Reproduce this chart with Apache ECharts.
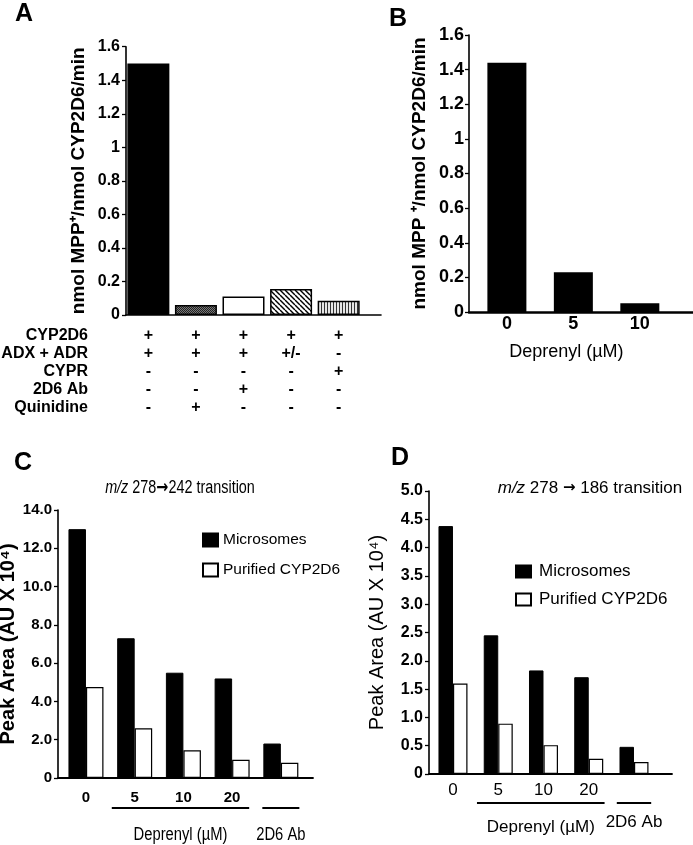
<!DOCTYPE html>
<html><head><meta charset="utf-8">
<script src="https://cdn.jsdelivr.net/npm/echarts@6/dist/echarts.min.js"></script>
<style>html,body{margin:0;padding:0;background:#fff}#c{width:693px;height:845px}</style>
</head><body><div id="c"></div>
<script>
// ---------------- data ----------------
// Panel A
const aValues = [1.50, 0.06, 0.11, 0.155, 0.085];
const aRowNames = ['CYP2D6', 'ADX + ADR', 'CYPR', '2D6 Ab', 'Quinidine'];
const aTable = [
  ['+', '+', '+', '+', '+'],
  ['+', '+', '+', '+/-', '-'],
  ['-', '-', '-', '-', '+'],
  ['-', '-', '+', '-', '-'],
  ['-', '+', '-', '-', '-']
];
// Panel B
const bCategories = ['0', '5', '10'];
const bValues = [1.44, 0.23, 0.05];
// Panels C and D
const cdTickLabels = ['0', '5', '10', '20', ''];
const cMicro = [13.0, 7.3, 5.5, 5.2, 1.8];
const cPurified = [4.75, 2.6, 1.45, 0.95, 0.8];
const dMicro = [4.38, 2.45, 1.83, 1.71, 0.48];
const dPurified = [1.6, 0.89, 0.51, 0.27, 0.21];
const groupNames = ['Deprenyl (µM)', '2D6 Ab'];
const groupFrom = [0.53, 3.62];
const groupTo = [3.35, 4.38];

// ---------------- styles ----------------
const SANS = "'Liberation Sans', Arial, sans-serif";
const ARROWFONT = "'DejaVu Sans', sans-serif";
const BLACK = '#000';

function pattern(w, h, draw) {
  const c = document.createElement('canvas');
  c.width = w; c.height = h;
  const ctx = c.getContext('2d');
  draw(ctx, w, h);
  return { image: c, repeat: 'repeat' };
}
const stipple = pattern(2, 2, (ctx) => {
  ctx.fillStyle = '#777'; ctx.fillRect(0, 0, 2, 2);
  ctx.fillStyle = '#222'; ctx.fillRect(0, 0, 1, 1); ctx.fillRect(1, 1, 1, 1);
});
const diagonal = pattern(5, 5, (ctx, w, h) => {
  ctx.fillStyle = '#fff'; ctx.fillRect(0, 0, w, h);
  ctx.strokeStyle = '#000'; ctx.lineWidth = 1.4;
  for (let i = -w; i <= w; i += w) {
    ctx.beginPath(); ctx.moveTo(i, 0); ctx.lineTo(i + w, h); ctx.stroke();
  }
});
const vertical = pattern(3, 1, (ctx) => {
  ctx.fillStyle = '#e6e6e6'; ctx.fillRect(0, 0, 3, 1);
  ctx.fillStyle = '#333'; ctx.fillRect(0, 0, 1, 1);
});
const aStyles = [
  { color: BLACK, borderColor: BLACK, borderWidth: 1.5 },
  { color: stipple, borderColor: BLACK, borderWidth: 1.5 },
  { color: '#fff', borderColor: BLACK, borderWidth: 1.5 },
  { color: diagonal, borderColor: BLACK, borderWidth: 1.5 },
  { color: vertical, borderColor: BLACK, borderWidth: 1.5 }
];

const axisLineStyle = (w) => ({ show: true, onZero: false, lineStyle: { color: BLACK, width: w } });
const noSplit = { show: false };

const chart = echarts.init(document.getElementById('c'), null, { renderer: 'canvas' });

const option = {
  backgroundColor: '#fff',
  animation: false,
  grid: [
    { left: 126, top: 46.7, width: 255, height: 268.3, outerBoundsMode: 'none', containLabel: false },
    { left: 469, top: 35, width: 224, height: 277, outerBoundsMode: 'none', containLabel: false },
    { left: 58, top: 510, width: 255, height: 268, outerBoundsMode: 'none', containLabel: false },
    { left: 429, top: 491, width: 243, height: 283, outerBoundsMode: 'none', containLabel: false }
  ],
  xAxis: [
    {
      gridIndex: 0, type: 'value', min: -0.47, max: 4.89,
      splitLine: noSplit, axisTick: { show: false }, axisLine: axisLineStyle(1.6),
      axisLabel: {
        customValues: [0, 1, 2, 3, 4],
        formatter: (v) => aTable.map(r => r[Math.round(v)]).join('\n'),
        fontFamily: SANS, fontSize: 16, fontWeight: 'bold', lineHeight: 18, margin: 12, color: BLACK
      }
    },
    {
      gridIndex: 1, type: 'value', min: -0.57, max: 2.8,
      splitLine: noSplit, axisTick: { show: false }, axisLine: axisLineStyle(2.5),
      axisLabel: {
        customValues: [0, 1, 2],
        formatter: (v) => bCategories[Math.round(v)],
        fontFamily: SANS, fontSize: 18, fontWeight: 'bold', margin: 3, color: BLACK
      }
    },
    {
      gridIndex: 2, type: 'value', min: -0.574, max: 4.66,
      splitLine: noSplit, axisTick: { show: false }, axisLine: axisLineStyle(1.8),
      axisLabel: {
        customValues: [0, 1, 2, 3],
        formatter: (v) => cdTickLabels[Math.round(v)],
        fontFamily: SANS, fontSize: 15, fontWeight: 'bold', margin: 12, color: BLACK
      }
    },
    {
      gridIndex: 3, type: 'value', min: -0.53, max: 4.84,
      splitLine: noSplit, axisTick: { show: false }, axisLine: axisLineStyle(1.8),
      axisLabel: {
        customValues: [0, 1, 2, 3],
        formatter: (v) => cdTickLabels[Math.round(v)],
        fontFamily: SANS, fontSize: 17, margin: 8, color: BLACK
      }
    }
  ],
  yAxis: [
    {
      gridIndex: 0, type: 'value', min: 0, max: 1.6, interval: 0.2,
      splitLine: noSplit, axisLine: axisLineStyle(1.6),
      axisTick: { show: true, length: 4, lineStyle: { color: BLACK, width: 1.3 } },
      axisLabel: { fontFamily: SANS, fontSize: 16, fontWeight: 'bold', color: BLACK, margin: 6 },
      name: 'nmol MPP\u207A/nmol CYP2D6/min', nameLocation: 'middle', nameGap: 38, nameMoveOverlap: false,
      nameTextStyle: { fontFamily: SANS, fontSize: 19, fontWeight: 'bold', color: BLACK }
    },
    {
      gridIndex: 1, type: 'value', min: 0, max: 1.6, interval: 0.2,
      splitLine: noSplit, axisLine: axisLineStyle(1.6),
      axisTick: { show: true, length: 4, lineStyle: { color: BLACK, width: 1.3 } },
      axisLabel: { fontFamily: SANS, fontSize: 18, fontWeight: 'bold', color: BLACK, margin: 5 },
      name: 'nmol MPP \u207A/nmol CYP2D6/min', nameLocation: 'middle', nameGap: 40, nameMoveOverlap: false,
      nameTextStyle: { fontFamily: SANS, fontSize: 19, fontWeight: 'bold', color: BLACK }
    },
    {
      gridIndex: 2, type: 'value', min: 0, max: 14, interval: 2,
      splitLine: noSplit, axisLine: axisLineStyle(1.6),
      axisTick: { show: true, length: 4, lineStyle: { color: BLACK, width: 1.3 } },
      axisLabel: {
        fontFamily: SANS, fontSize: 15, fontWeight: 'bold', color: BLACK, margin: 6,
        formatter: (v) => v === 0 ? '0' : v.toFixed(1)
      },
      name: 'Peak Area (AU X 10\u2074)', nameLocation: 'middle', nameGap: 40, nameMoveOverlap: false,
      nameTextStyle: { fontFamily: SANS, fontSize: 20, fontWeight: 'bold', color: BLACK }
    },
    {
      gridIndex: 3, type: 'value', min: 0, max: 5, interval: 0.5,
      splitLine: noSplit, axisLine: axisLineStyle(1.6),
      axisTick: { show: true, length: 4, lineStyle: { color: BLACK, width: 1.3 } },
      axisLabel: {
        fontFamily: SANS, fontSize: 16, fontWeight: 'bold', color: BLACK, margin: 6,
        formatter: (v) => v === 0 ? '0' : v.toFixed(1)
      },
      name: 'Peak Area (AU X 10\u2074)', nameLocation: 'middle', nameGap: 42, nameMoveOverlap: false,
      nameTextStyle: { fontFamily: SANS, fontSize: 20, color: BLACK }
    }
  ],
  legend: [
    {
      left: 202, top: 532, orient: 'vertical', padding: 0, icon: 'rect',
      itemWidth: 15, itemHeight: 13, itemGap: 14,
      data: ['Microsomes', 'Purified CYP2D6'],
      textStyle: { fontFamily: SANS, fontSize: 15.5, color: BLACK }
    },
    {
      left: 515, top: 563, orient: 'vertical', padding: 0, icon: 'rect',
      itemWidth: 15, itemHeight: 12, itemGap: 11,
      data: ['Microsomes', 'Purified CYP2D6'],
      textStyle: { fontFamily: SANS, fontSize: 17, color: BLACK, padding: [0, 0, 0, 3] }
    }
  ],
  series: [
    {
      name: 'A', type: 'bar', xAxisIndex: 0, yAxisIndex: 0, barWidth: 42,
      data: aValues.map((v, i) => ({ value: [i, v], itemStyle: aStyles[i] }))
    },
    {
      name: 'B', type: 'bar', xAxisIndex: 1, yAxisIndex: 1, barWidth: 39,
      itemStyle: { color: BLACK },
      data: bValues.map((v, i) => [i, v])
    },
    {
      name: 'Microsomes', type: 'bar', xAxisIndex: 2, yAxisIndex: 2, barWidth: 17.5, barGap: '0%',
      itemStyle: { color: BLACK, borderColor: BLACK, borderWidth: 1 },
      data: cMicro.map((v, i) => [i, v])
    },
    {
      name: 'Purified CYP2D6', type: 'bar', xAxisIndex: 2, yAxisIndex: 2, barWidth: 17.5, barGap: '0%',
      itemStyle: { color: '#fff', borderColor: BLACK, borderWidth: 1.2 },
      data: cPurified.map((v, i) => [i, v])
    },
    {
      name: 'Microsomes', type: 'bar', xAxisIndex: 3, yAxisIndex: 3, barWidth: 14.5, barGap: '0%',
      itemStyle: { color: BLACK, borderColor: BLACK, borderWidth: 1 },
      data: dMicro.map((v, i) => [i, v])
    },
    {
      name: 'Purified CYP2D6', type: 'bar', xAxisIndex: 3, yAxisIndex: 3, barWidth: 14.5, barGap: '0%',
      itemStyle: { color: '#fff', borderColor: BLACK, borderWidth: 1.2 },
      data: dPurified.map((v, i) => [i, v])
    }
  ]
};
chart.setOption(option);

// ---------------- annotations (positions derived from the axes) ----------------
const graphic = [];
const letter = (t, x, y) => ({ type: 'text', x, y, style: { text: t, fontFamily: SANS, fontSize: 25, fontWeight: 'bold', fill: BLACK, align: 'center', verticalAlign: 'middle' } });
graphic.push(letter('A', 24, 14), letter('B', 398, 19), letter('C', 23, 463), letter('D', 400, 458));

// Panel A row names (aligned with the x axis label lines)
const aBase = chart.convertToPixel({ gridIndex: 0 }, [0, 0]);
graphic.push({
  type: 'text', x: 88, y: aBase[1] + 12,
  style: { text: aRowNames.join('\n'), fontFamily: SANS, fontSize: 16, fontWeight: 'bold', lineHeight: 18, fill: BLACK, align: 'right', verticalAlign: 'top' }
});

// Panel B x axis title
const bMid = chart.convertToPixel({ gridIndex: 1 }, [1, 0]);
graphic.push({
  type: 'text', x: bMid[0] - 7, y: bMid[1] + 40,
  style: { text: 'Deprenyl (µM)', fontFamily: SANS, fontSize: 18, fill: BLACK, align: 'center', verticalAlign: 'middle' }
});

// Panel C / D titles (C uses a horizontally condensed face)
graphic.push({
  type: 'text', x: 180, y: 488, scaleX: 0.8,
  style: {
    text: '{i|m/z} 278{a|\u2192}242 transition', fontFamily: SANS, fontSize: 18, fill: BLACK, align: 'center', verticalAlign: 'middle',
    rich: { i: { fontStyle: 'italic', fontFamily: SANS, fontSize: 18 }, a: { fontFamily: ARROWFONT, fontSize: 18, fontWeight: 'bold' } }
  }
});
graphic.push({
  type: 'text', x: 590, y: 488,
  style: {
    text: '{i|m/z} 278 {a|\u2192} 186 transition', fontFamily: SANS, fontSize: 17, fill: BLACK, align: 'center', verticalAlign: 'middle',
    rich: { i: { fontStyle: 'italic', fontFamily: SANS, fontSize: 17 }, a: { fontFamily: ARROWFONT, fontSize: 15, fontWeight: 'bold' } }
  }
});

// Group underlines and labels for C and D
function groupMarks(gridIndex, lineOff, textOff, size, sx) {
  for (let g = 0; g < groupNames.length; g++) {
    const p1 = chart.convertToPixel({ gridIndex }, [groupFrom[g], 0]);
    const p2 = chart.convertToPixel({ gridIndex }, [groupTo[g], 0]);
    graphic.push({
      type: 'line', shape: { x1: p1[0], y1: p1[1] + lineOff, x2: p2[0], y2: p2[1] + lineOff },
      style: { stroke: BLACK, lineWidth: 1.8 }
    });
    graphic.push({
      type: 'text', x: (p1[0] + p2[0]) / 2, y: p1[1] + textOff[g], scaleX: sx,
      style: { text: groupNames[g], fontFamily: SANS, fontSize: size, fill: BLACK, align: 'center', verticalAlign: 'middle' }
    });
  }
}
groupMarks(2, 30, [57, 57], 18, 0.82);
groupMarks(3, 29, [53, 48], 17, 1);

chart.setOption({ graphic });
</script>
</body></html>
